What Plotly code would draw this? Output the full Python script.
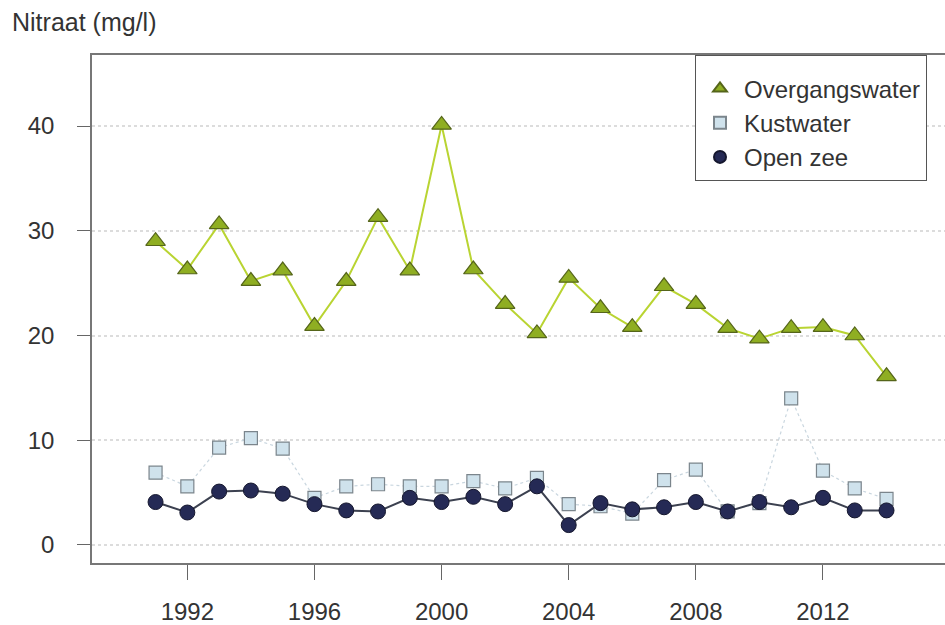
import plotly.graph_objects as go

years = list(range(1991, 2015))
overgangswater = [29.0, 26.3, 30.6, 25.2, 26.2, 20.9, 25.2, 31.3, 26.2, 40.1, 26.3, 23.0,
                  20.2, 25.5, 22.6, 20.8, 24.7, 23.0, 20.7, 19.7, 20.7, 20.8, 20.0, 16.1]
kustwater = [6.9, 5.6, 9.3, 10.2, 9.2, 4.5, 5.6, 5.8, 5.6, 5.6, 6.1, 5.4,
             6.4, 3.9, 3.7, 3.0, 6.2, 7.2, 3.2, 4.0, 14.0, 7.1, 5.4, 4.4]
open_zee = [4.1, 3.1, 5.1, 5.2, 4.9, 3.9, 3.3, 3.2, 4.5, 4.1, 4.6, 3.9,
            5.6, 1.9, 4.0, 3.4, 3.6, 4.1, 3.2, 4.1, 3.6, 4.5, 3.3, 3.3]
x_ticks = [1992, 1996, 2000, 2004, 2008, 2012]
y_ticks = [0, 10, 20, 30, 40]

FONT = "Liberation Sans, Arial, sans-serif"

series = [
    dict(name="Overgangswater", y=overgangswater,
         line=dict(color="#b9d432", width=2),
         marker=dict(symbol="triangle-up", size=17, color="#8fae22",
                     line=dict(color="#55651a", width=1.2))),
    dict(name="Kustwater", y=kustwater,
         line=dict(color="#c9d6df", width=1.2, dash="dot"),
         marker=dict(symbol="square", size=13, color="#cfe2ec",
                     line=dict(color="#7b858c", width=1.2))),
    dict(name="Open zee", y=open_zee,
         line=dict(color="#3c4150", width=2),
         marker=dict(symbol="circle", size=15, color="#252a55",
                     line=dict(color="#15172e", width=1))),
]

fig = go.Figure()
for s in series:
    fig.add_trace(go.Scatter(x=years, y=s["y"], name=s["name"], mode="lines+markers",
                             line=s["line"], marker=s["marker"], showlegend=False))
# legend entries: markers only
for s in series:
    fig.add_trace(go.Scatter(x=[None], y=[None], name=s["name"], mode="markers",
                             marker=s["marker"], showlegend=True))

fig.update_layout(
    width=945, height=625,
    margin=dict(l=92, r=0, t=55, b=62, autoexpand=False),
    paper_bgcolor="white", plot_bgcolor="white",
    font=dict(family=FONT, color="#333333", size=24),
    title=dict(text="Nitraat (mg/l)", x=12 / 945, xanchor="left", xref="container",
               y=1 - 22 / 625, yanchor="middle", yref="container",
               font=dict(size=25, color="#333333", family=FONT)),
    showlegend=True,
    legend=dict(x=(695 - 92) / 853, y=1.0, xanchor="left", yanchor="top",
                bgcolor="white", bordercolor="#555555", borderwidth=1,
                font=dict(size=24, color="#333333", family=FONT),
                title=dict(text=" ", font=dict(size=8)),
                itemsizing="constant", itemwidth=38),
    xaxis=dict(range=[1989.0, 2015.84], tickvals=x_ticks, ticks="outside", ticklen=15,
               tickcolor="#666666", tickwidth=1, showgrid=False, zeroline=False,
               showline=True, linecolor="#777777", linewidth=1.5, mirror=True,
               automargin=False, ticklabelstandoff=11, tickfont=dict(size=24)),
    yaxis=dict(range=[-1.72, 46.78], tickvals=y_ticks, ticks="outside", ticklen=13,
               tickcolor="#666666", tickwidth=1, showgrid=True, gridcolor="#dcdcdc",
               griddash="dot", gridwidth=1.5, zeroline=False,
               showline=True, linecolor="#777777", linewidth=1.5, mirror=True,
               automargin=False, ticklabelstandoff=18, tickfont=dict(size=24)),
)

fig.write_html("out.html", config={"displayModeBar": False},
               post_script="document.body.style.margin='0';document.body.style.overflow='hidden';")
